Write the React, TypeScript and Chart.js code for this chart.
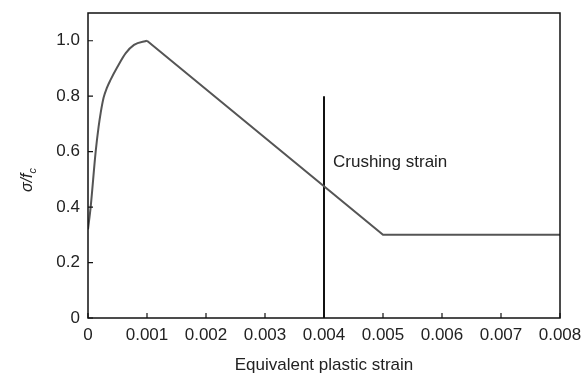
import React, { useEffect, useRef } from "react";
import { Chart, registerables } from "chart.js";

Chart.register(...registerables);

const curveStrain = [0, 0.000045, 0.00013, 0.00018, 0.000215, 0.000265, 0.00032, 0.00038, 0.0005, 0.00064, 0.00078, 0.001];
const curveStress = [0.32, 0.4, 0.6, 0.69, 0.74, 0.795, 0.83, 0.858, 0.906, 0.955, 0.985, 1.0];
const linearStrain = [0.001, 0.005, 0.008];
const linearStress = [1.0, 0.3, 0.3];
const crushStrain = [0.004, 0.004];
const crushStress = [0, 0.8];
const xTicks = [0, 0.001, 0.002, 0.003, 0.004, 0.005, 0.006, 0.007, 0.008];
const yTicks = [0, 0.2, 0.4, 0.6, 0.8, 1.0];
const xTitle = "Equivalent plastic strain";
const annotationText = "Crushing strain";
const annotationAt = { x: 0.004, y: 0.562 };

const FONT = "'Liberation Sans', Arial, sans-serif";

const boxPlugin = {
  id: "boxAndLabels",
  afterDraw(chart: any) {
    const { ctx, chartArea } = chart;
    const xs = chart.scales.x;
    const ys = chart.scales.y;
    ctx.save();
    ctx.strokeStyle = "#111";
    ctx.lineWidth = 1.5;
    ctx.strokeRect(chartArea.left, chartArea.top, chartArea.right - chartArea.left, chartArea.bottom - chartArea.top);
    ctx.lineWidth = 1.2;
    ctx.beginPath();
    xTicks.forEach((v) => {
      const px = xs.getPixelForValue(v);
      ctx.moveTo(px, chartArea.bottom);
      ctx.lineTo(px, chartArea.bottom - 5);
    });
    yTicks.forEach((v) => {
      const py = ys.getPixelForValue(v);
      ctx.moveTo(chartArea.left, py);
      ctx.lineTo(chartArea.left + 5, py);
    });
    ctx.stroke();
    ctx.fillStyle = "#222";
    ctx.font = `17px ${FONT}`;
    ctx.textAlign = "left";
    ctx.textBaseline = "middle";
    ctx.fillText(annotationText, xs.getPixelForValue(annotationAt.x) + 9, ys.getPixelForValue(annotationAt.y));
    ctx.translate(27, 180);
    ctx.rotate(-Math.PI / 2);
    ctx.textAlign = "left";
    ctx.textBaseline = "alphabetic";
    ctx.font = `italic 16px ${FONT}`;
    const main = "σ/f";
    const w = ctx.measureText(main).width;
    ctx.font = `italic 11px ${FONT}`;
    const wc = ctx.measureText("c").width;
    const total = w + wc;
    ctx.font = `italic 16px ${FONT}`;
    ctx.fillText(main, -total / 2, 5);
    ctx.font = `italic 11px ${FONT}`;
    ctx.fillText("c", -total / 2 + w, 9);
    ctx.restore();
  },
};

export default function App() {
  const ref = useRef<HTMLCanvasElement>(null);
  useEffect(() => {
    if (!ref.current) return;
    const chart = new Chart(ref.current, {
      type: "line",
      data: {
        datasets: [
          {
            data: curveStrain.map((x, i) => ({ x, y: curveStress[i] })),
            borderColor: "#555",
            borderWidth: 2,
            pointRadius: 0,
            cubicInterpolationMode: "monotone",
            fill: false,
          },
          {
            data: linearStrain.map((x, i) => ({ x, y: linearStress[i] })),
            borderColor: "#555",
            borderWidth: 2,
            pointRadius: 0,
            tension: 0,
            fill: false,
          },
          {
            data: crushStrain.map((x, i) => ({ x, y: crushStress[i] })),
            borderColor: "#111",
            borderWidth: 2,
            pointRadius: 0,
            tension: 0,
            fill: false,
          },
        ],
      },
      options: {
        animation: false,
        responsive: false,
        maintainAspectRatio: false,
        layout: { padding: { left: 0, top: 13, right: 26, bottom: 0 } },
        plugins: { legend: { display: false }, tooltip: { enabled: false } },
        scales: {
          x: {
            type: "linear",
            min: 0,
            max: 0.008,
            afterBuildTicks: (s: any) => {
              s.ticks = xTicks.map((v) => ({ value: v }));
            },
            afterFit: (s: any) => {
              s.height = 60;
              s.paddingLeft = 0;
              s.paddingRight = 0;
              s.paddingTop = 0;
              s.paddingBottom = 0;
            },
            grid: { display: false, drawTicks: false },
            border: { display: false },
            ticks: {
              color: "#222",
              padding: 7,
              maxRotation: 0,
              autoSkip: false,
              font: { family: FONT, size: 17 },
              callback: (v: any) => (v === 0 ? "0" : Number(v).toFixed(3)),
            },
            title: {
              display: true,
              text: xTitle,
              color: "#222",
              font: { family: FONT, size: 17 },
              padding: { top: 0, bottom: 2 },
            },
          },
          y: {
            type: "linear",
            min: 0,
            max: 1.1,
            afterBuildTicks: (s: any) => {
              s.ticks = yTicks.map((v) => ({ value: v }));
            },
            afterFit: (s: any) => {
              s.width = 88;
              s.paddingLeft = 0;
              s.paddingRight = 0;
              s.paddingTop = 0;
              s.paddingBottom = 0;
            },
            grid: { display: false, drawTicks: false },
            border: { display: false },
            ticks: {
              color: "#222",
              padding: 8,
              autoSkip: false,
              font: { family: FONT, size: 17 },
              callback: (v: any) => (v === 0 ? "0" : Number(v).toFixed(1)),
            },
          },
        },
      },
      plugins: [boxPlugin],
    });
    return () => chart.destroy();
  }, []);
  return (
    <div style={{ position: "fixed", left: 0, top: 0, width: 586, height: 378, background: "#fff" }}>
      <canvas ref={ref} width={586} height={378} style={{ width: 586, height: 378 }} />
    </div>
  );
}
